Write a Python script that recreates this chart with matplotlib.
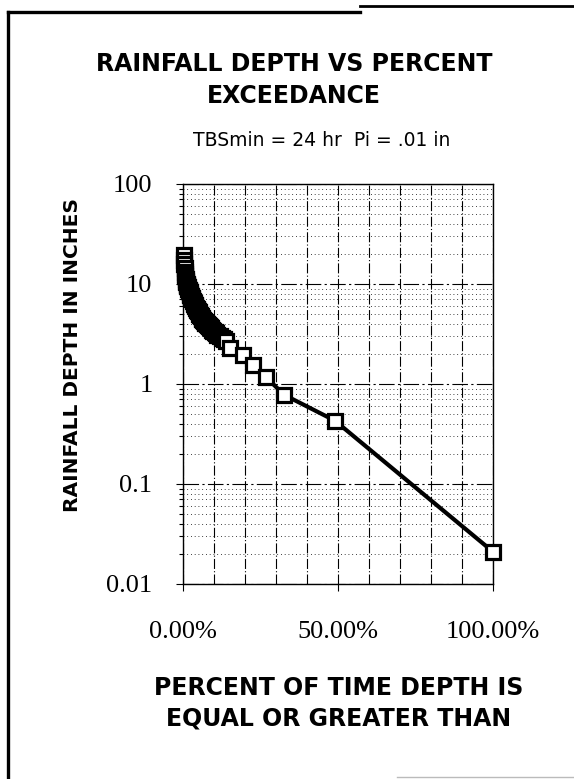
import matplotlib
matplotlib.use("Agg")
import matplotlib.pyplot as plt
from matplotlib.lines import Line2D
from matplotlib.ticker import FixedLocator, LogLocator, NullFormatter

'''data read off the scan'''
pct_exceed = [0.3, 0.35, 0.4, 0.5, 0.6, 0.7, 0.8, 0.9, 1.0, 1.1, 1.2, 1.3, 1.4, 1.5, 1.65,
              1.8, 1.95, 2.1, 2.25, 2.4, 2.55, 2.7, 2.85, 3.0, 3.2, 3.4, 3.6, 3.8,
              4.0, 4.2, 4.4, 4.6, 4.8, 5.0, 5.25, 5.5, 5.75, 6.0, 6.25, 6.5, 6.75,
              7.0, 7.25, 7.5, 7.75, 8.0, 8.35, 8.7, 9.05, 9.4, 9.8, 10.2, 10.6,
              11.1, 11.8, 12.5, 13.2, 13.9, 15.2, 19.4, 22.6, 26.8, 32.6, 49.0, 100.0]
depth_in = [19.5, 17.5, 16.0, 14.5, 13.3, 12.5, 11.9, 11.3, 10.8, 10.4, 10.1, 9.8, 9.5, 9.3, 9.0,
            8.75, 8.5, 8.25, 8.0, 7.8, 7.6, 7.4, 7.2, 7.0, 6.75, 6.5, 6.3, 6.1,
            6.0, 5.8, 5.65, 5.5, 5.35, 5.2, 5.05, 4.9, 4.75, 4.6, 4.5, 4.4, 4.3,
            4.2, 4.12, 4.05, 3.97, 3.9, 3.8, 3.7, 3.6, 3.5, 3.4, 3.3, 3.2,
            3.1, 3.0, 2.9, 2.8, 2.7, 2.3, 1.95, 1.55, 1.17, 0.78, 0.43, 0.021]
x_ticks = [0.0, 0.5, 1.0]
x_ticklabels = ['0.00%', '50.00%', '100.00%']
y_ticks = [0.01, 0.1, 1, 10, 100]
y_ticklabels = ['0.01', '0.1', '1', '10', '100']

title = 'RAINFALL DEPTH VS PERCENT\nEXCEEDANCE'
subtitle = 'TBSmin = 24 hr  Pi = .01 in'
xlabel = 'PERCENT OF TIME DEPTH IS\nEQUAL OR GREATER THAN'
ylabel = 'RAINFALL DEPTH IN INCHES'

W, H = 574, 779
fig = plt.figure(figsize=(W / 100, H / 100), dpi=100)
fig.patch.set_facecolor('white')

# axes box in pixels: x 183..493, y 184..584
ax = fig.add_axes([183 / W, 1 - 584 / H, 310 / W, 400 / H])
ax.set_yscale('log')
ax.set_xlim(0, 1)
ax.set_ylim(0.01, 100)

# grid - scan makes it broken, so dashed/dotted
ax.xaxis.set_minor_locator(FixedLocator([i / 10 for i in range(1, 10)]))
ax.yaxis.set_minor_locator(LogLocator(base=10, subs=range(2, 10)))
ax.yaxis.set_minor_formatter(NullFormatter())
ax.grid(True, which='major', axis='y', color='black', lw=0.8, ls=(0, (14, 3, 2, 3)))
ax.grid(True, which='minor', axis='y', color='black', lw=0.6, ls=(0, (1, 3.5)))
ax.grid(True, which='both', axis='x', color='black', lw=0.8, ls=(0, (9, 2, 1, 2)))

x = [p / 100 for p in pct_exceed]
ax.plot(x, depth_in, color='black', lw=3.0, marker='s', ms=9.8, mfc='white',
        mec='black', mew=2.3, clip_on=False, zorder=5)

ax.set_xticks(x_ticks)
ax.set_xticklabels(x_ticklabels)
ax.set_yticks(y_ticks)
ax.set_yticklabels(y_ticklabels)
for lab in ax.get_xticklabels() + ax.get_yticklabels():
    lab.set_family('Liberation Serif')
    lab.set_fontsize(19)
ax.tick_params(axis='x', which='major', direction='out', length=5, width=0.8, pad=22)
ax.tick_params(axis='x', which='minor', length=0)
ax.tick_params(axis='y', which='major', direction='out', length=5, width=0.8, pad=17)
ax.tick_params(axis='y', which='minor', direction='out', length=3, width=0.8)
for s in ax.spines.values():
    s.set_color('black')
    s.set_linewidth(1.0)

# text outside the plot
bold = dict(family='DejaVu Sans', weight='bold', color='black')
fig.text(294 / W, 1 - 80 / H, title, ha='center', va='center', fontsize=17,
         linespacing=1.45, **bold)
fig.text(322 / W, 1 - 140 / H, subtitle, ha='center', va='center',
         family='DejaVu Sans', fontsize=13.5, color='black')
fig.text(339 / W, 1 - 703 / H, xlabel, ha='center', va='center', fontsize=17,
         linespacing=1.35, **bold)
fig.text(73 / W, 1 - 355 / H, ylabel, ha='center', va='center', rotation=90,
         fontsize=14.5, **bold)

# page border bits from the scan
fig.add_artist(Line2D([8 / W, 8 / W], [0, 1 - 12 / H], color='black', lw=2.4))
fig.add_artist(Line2D([8 / W, 360 / W], [1 - 12 / H, 1 - 12 / H], color='black', lw=2.4))
fig.add_artist(Line2D([360 / W, 1], [1 - 6 / H, 1 - 6 / H], color='black', lw=2.0))
fig.add_artist(Line2D([397 / W, 1], [1 - 777 / H, 1 - 777 / H], color='#bbbbbb', lw=1.0))

fig.savefig('out.png', dpi=100)
